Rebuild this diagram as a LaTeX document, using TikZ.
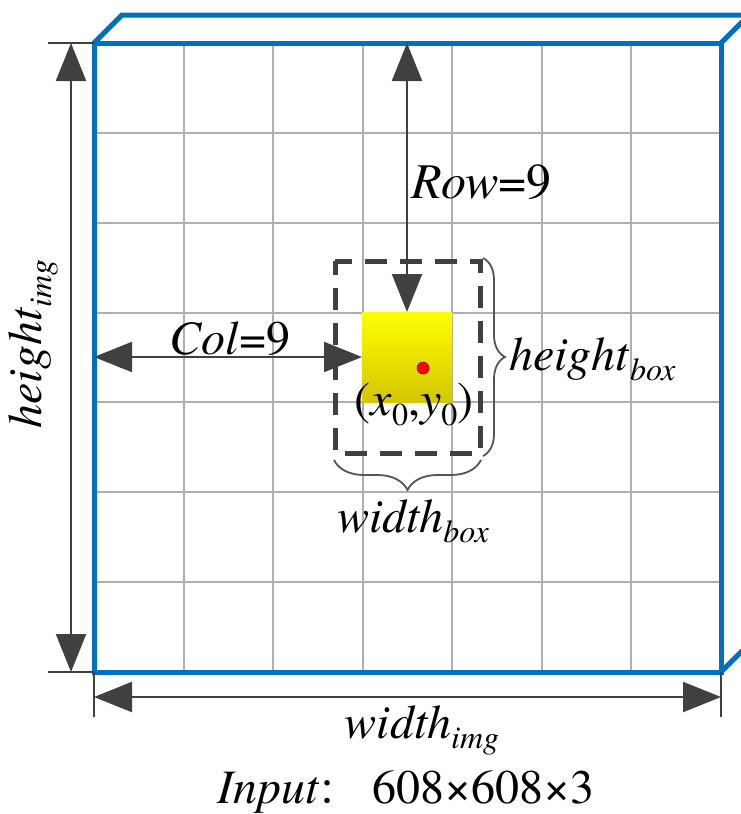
\documentclass[tikz,border=0pt]{standalone}
\usepackage{fontspec}
\setmainfont{texgyretermes}[Extension=.otf,UprightFont=*-regular,ItalicFont=*-italic,BoldFont=*-bold,BoldItalicFont=*-bolditalic]
\newfontfamily\cjkfont{Noto Sans CJK SC}
\usetikzlibrary{arrows.meta,decorations.pathreplacing,calc}
\definecolor{frameblue}{RGB}{0,112,192}
\definecolor{gridgray}{RGB}{175,175,175}
\definecolor{darkg}{RGB}{64,64,64}
\definecolor{braceg}{RGB}{85,85,85}
\newcommand\sbx[1]{\raisebox{-0.22em}{\fontsize{32}{32}\selectfont #1}}
\begin{document}
\begin{tikzpicture}[x=1pt,y=-1pt,
  gridline/.style={draw=gridgray,line width=2pt},
  frameline/.style={draw=frameblue,line width=5pt,line join=miter},
  dimarrow/.style={draw=darkg,line width=2.2pt,
     {Triangle[length=38pt,width=30pt]}-{Triangle[length=38pt,width=30pt]}},
  tickline/.style={draw=darkg,line width=2.2pt},
  dashbox/.style={draw=darkg,line width=5pt,dash pattern=on 22pt off 13pt,dash phase=8pt},
  bracestyle/.style={draw=braceg,line width=1.8pt,decorate},
  lbl/.style={inner sep=0pt,font=\fontsize{48}{48}\selectfont},
]
\path[use as bounding box,clip] (0,0) rectangle (741,814);
\fill[white] (0,0) rectangle (741,814);
% corners
\coordinate (TL) at (94,43);
\coordinate (TR) at (721,43);
\coordinate (BL) at (94,672);
\coordinate (BR) at (721,672);
% grid
\foreach \i in {1,...,6}{
  \draw[gridline] ($(TL)!\i/7!(TR)$) -- ($(BL)!\i/7!(BR)$);
  \draw[gridline] ($(TL)!\i/7!(BL)$) -- ($(TR)!\i/7!(BR)$);
}
% blue frame (front and back face)
\coordinate (BTL) at (122,15);
\coordinate (BTR) at (749,15);
\coordinate (BBR) at (749,644);
\draw[frameline] (TL) rectangle (BR);
\draw[frameline] (TL) -- (BTL) -- (BTR) -- (TR);
\draw[frameline] (BTR) -- (BBR) -- (BR);
% yellow box
\node[inner sep=0pt,outer sep=0pt,minimum width=90pt,minimum height=90pt,
      top color={rgb,255:red,255;green,255;blue,0},
      bottom color={rgb,255:red,212;green,198;blue,0}] (ybox) at (407,357) {};
\node[circle,fill=red,draw={rgb,255:red,150;green,0;blue,0},line width=0.6pt,
      minimum size=12pt,inner sep=0pt] (dot) at (423,368) {};
% dashed box
\coordinate (DTL) at (335,261);
\coordinate (DBR) at (480,453);
\draw[dashbox] (DTL) rectangle (DBR);
% dimension lines
\coordinate (hT) at (71,43);
\coordinate (hB) at (71,672);
\coordinate (tkT) at (48,43);
\coordinate (tkB) at (48,672);
\draw[tickline] (tkT) -- (TL);
\draw[tickline] (tkB) -- (BL);
\draw[dimarrow] (hT) -- (hB);
\coordinate (wL) at (94,697);
\coordinate (wR) at (721,697);
\coordinate (tkL) at (94,717);
\coordinate (tkR) at (721,717);
\draw[tickline] (BL) -- (tkL);
\draw[tickline] (BR) -- (tkR);
\draw[dimarrow] (wL) -- (wR);
% row / col arrows
\draw[dimarrow] (ybox.north |- TL) -- (ybox.north);
\draw[dimarrow] (TL |- ybox.west) -- (ybox.west);
% braces
\coordinate (rbT) at (483,258);
\coordinate (rbB) at (483,456);
\draw[bracestyle,decoration={brace,amplitude=22pt}] (rbT) -- (rbB);
\coordinate (bbR) at (481,460);
\coordinate (bbL) at (334,460);
\draw[bracestyle,decoration={brace,amplitude=30pt}] (bbR) -- (bbL);
% labels
\node[lbl,anchor=base west,font=\fontsize{50}{50}\selectfont] (rowlbl) at (411,198) {\textit{Row}=9};
\node[lbl,anchor=base] (collbl) at (230,354) {\textit{Col}=9};
\node[lbl,anchor=base west] (hbox) at (509,370) {\textit{height}\sbx{\textit{box}}};
\node[lbl,anchor=base] (wbox) at (413,532) {\textit{width}\sbx{\textit{box}}};
\node[lbl,anchor=base] (xy) at (414,415) {(\textit{x}\sbx{0},\textit{y}\sbx{0})};
\node[lbl,anchor=base,rotate=90] (himg) at (41,344) {\textit{height}\sbx{\textit{img}}};
\node[lbl,anchor=base] (wimg) at (422,738) {\textit{width}\sbx{\textit{img}}};
\node[inner sep=0pt,anchor=base,font=\fontsize{48}{48}\selectfont] (inp) at (406,803)
  {\textit{Input}\hspace{-2pt}{\cjkfont\fontsize{36}{36}\selectfont ：}\hspace{18pt}608×608×3};
\end{tikzpicture}
\end{document}
